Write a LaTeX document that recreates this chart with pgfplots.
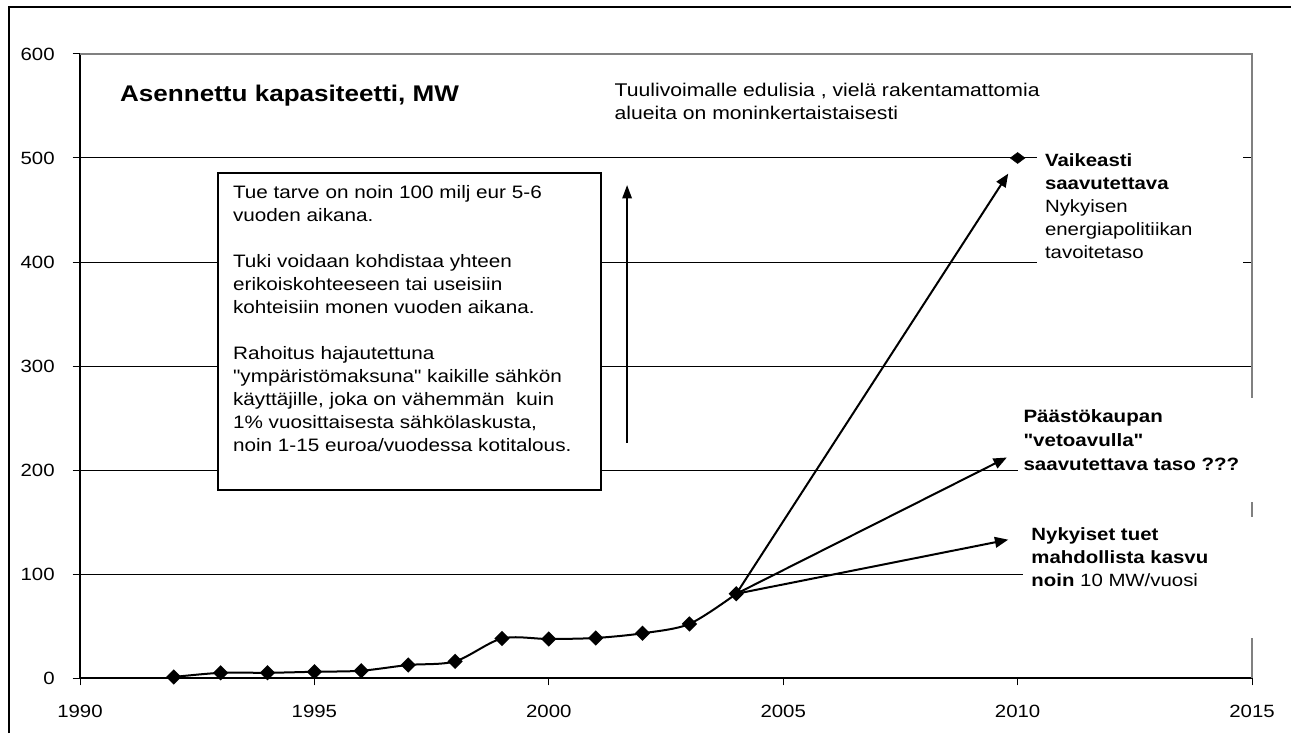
\documentclass[border=0pt]{standalone}
\usepackage{fontspec}
\setmainfont{Liberation Sans}[FakeStretch=1.15, Ligatures=TeXOff]
\usepackage{pgfplots}
\pgfplotsset{compat=1.18}
\usetikzlibrary{arrows.meta}
\newcommand{\q}{\char34\relax}

\begin{document}
\begin{tikzpicture}
\useasboundingbox (0pt,0pt) rectangle (968.25pt,549.75pt);
% outer frame (only top and left visible)
\draw[black, line width=1.5pt] (6.75pt,0pt) -- (6.75pt,544.5pt) -- (968.25pt,544.5pt);
\begin{axis}[
    at={(60pt,41.25pt)}, anchor=south west,
    scale only axis,
    width=879pt, height=468pt,
    xmin=1990, xmax=2015,
    ymin=0, ymax=600,
    xtick={1990,1995,2000,2005,2010,2015},
    ytick={0,100,200,300,400,500,600},
    /pgf/number format/1000 sep={},
    /pgf/number format/assume math mode=true,
    ticklabel style={font=\fontsize{13.3}{15}\selectfont},
    xticklabel style={yshift=-11.5pt},
    yticklabel style={xshift=-10pt},
    tick pos=left,
    tick align=outside,
    major tick length=5.5pt,
    tick style={black, line width=0.75pt},
    ymajorgrids,
    grid style={black, line width=0.75pt},
    axis line style={draw=none},
    clip=false,
]
% installed capacity, MW
\addplot[black, line width=1.5pt, smooth, mark=square*, mark size=3.3pt,
    mark options={rotate=45, solid}] coordinates {
    (1992,1) (1993,5) (1994,5) (1995,6) (1996,7) (1997,12.5) (1998,16)
    (1999,38) (2000,37.5) (2001,38.5) (2002,43) (2003,52) (2004,81)
};
% target level
\addplot[only marks, mark=diamond*, mark size=5.5pt, mark options={rotate=90}]
    coordinates {(2010,500)};

% plot area border
\draw[black, line width=1.1pt] (axis cs:1990,600) -- (axis cs:1990,0) -- (axis cs:2015,0);
\draw[gray, line width=1.1pt] (axis cs:1990,600) -- (axis cs:2015,600) -- (axis cs:2015,0);

% scenario arrows
\draw[line width=1.5pt, -{Triangle[length=10pt,width=8pt]}] (axis cs:2004,81) -- (axis cs:2009.8,485);
\draw[line width=1.5pt, -{Triangle[length=10pt,width=8pt]}] (axis cs:2004,81) -- (axis cs:2009.77,212);
\draw[line width=1.5pt, -{Triangle[length=10pt,width=8pt]}] (axis cs:2004,81) -- (axis cs:2009.8,133);
\draw[line width=1.5pt, -{Triangle[length=10pt,width=7pt]}] (axis cs:2001.67,226) -- (axis cs:2001.67,474);

% titles
\node[anchor=west, inner sep=0pt, font=\fontsize{17}{20}\selectfont\bfseries]
    at (axis cs:1990.85,559.6) {Asennettu kapasiteetti, MW};
\node[anchor=north west, align=left, inner sep=0pt, font=\fontsize{13.8}{17.25}\selectfont]
    at (axis cs:2001.4,572) {Tuulivoimalle edulisia , vielä rakentamattomia\\alueita on moninkertaistaisesti};

% text box
\draw[fill=white, line width=1.5pt] (axis cs:1992.94,485.6) rectangle (axis cs:2001.11,180.8);
\node[anchor=north west, align=left, inner sep=0pt, font=\fontsize{13.5}{17.25}\selectfont]
    at (axis cs:1993.26,474) {Tue tarve on noin 100 milj eur 5-6\\vuoden aikana.\\[17.25pt]
    Tuki voidaan kohdistaa yhteen\\erikoiskohteeseen tai useisiin\\kohteisiin monen vuoden aikana.\\[17.25pt]
    Rahoitus hajautettuna\\\q ympäristömaksuna\q\ kaikille sähkön\\käyttäjille, joka on vähemmän\ \ kuin\\
    1\% vuosittaisesta sähkölaskusta,\\noin 1-15 euroa/vuodessa kotitalous.};

% scenario labels
\fill[white] (axis cs:2010.41,509.6) rectangle (axis cs:2014.81,394.2);
\node[anchor=north west, align=left, inner sep=0pt, font=\fontsize{13.3}{17.25}\selectfont]
    at (axis cs:2010.58,504.8) {\textbf{Vaikeasti}\\\textbf{saavutettava}\\Nykyisen\\energiapolitiikan\\tavoitetaso};
\fill[white] (axis cs:2010.01,269.2) rectangle (axis cs:2015.21,169.2);
\node[anchor=north west, align=left, inner sep=0pt, font=\fontsize{13.4}{18}\selectfont\bfseries]
    at (axis cs:2010.12,258.5) {Päästökaupan\\\q vetoavulla\q\\saavutettava taso ???};
\fill[white] (axis cs:2010.12,154.8) rectangle (axis cs:2015.21,38.5);
\node[anchor=north west, align=left, inner sep=0pt, font=\fontsize{13.3}{17.25}\selectfont]
    at (axis cs:2010.29,144.5) {\textbf{Nykyiset tuet}\\\textbf{mahdollista kasvu}\\\textbf{noin} 10 MW/vuosi};
\end{axis}
\end{tikzpicture}
\end{document}
